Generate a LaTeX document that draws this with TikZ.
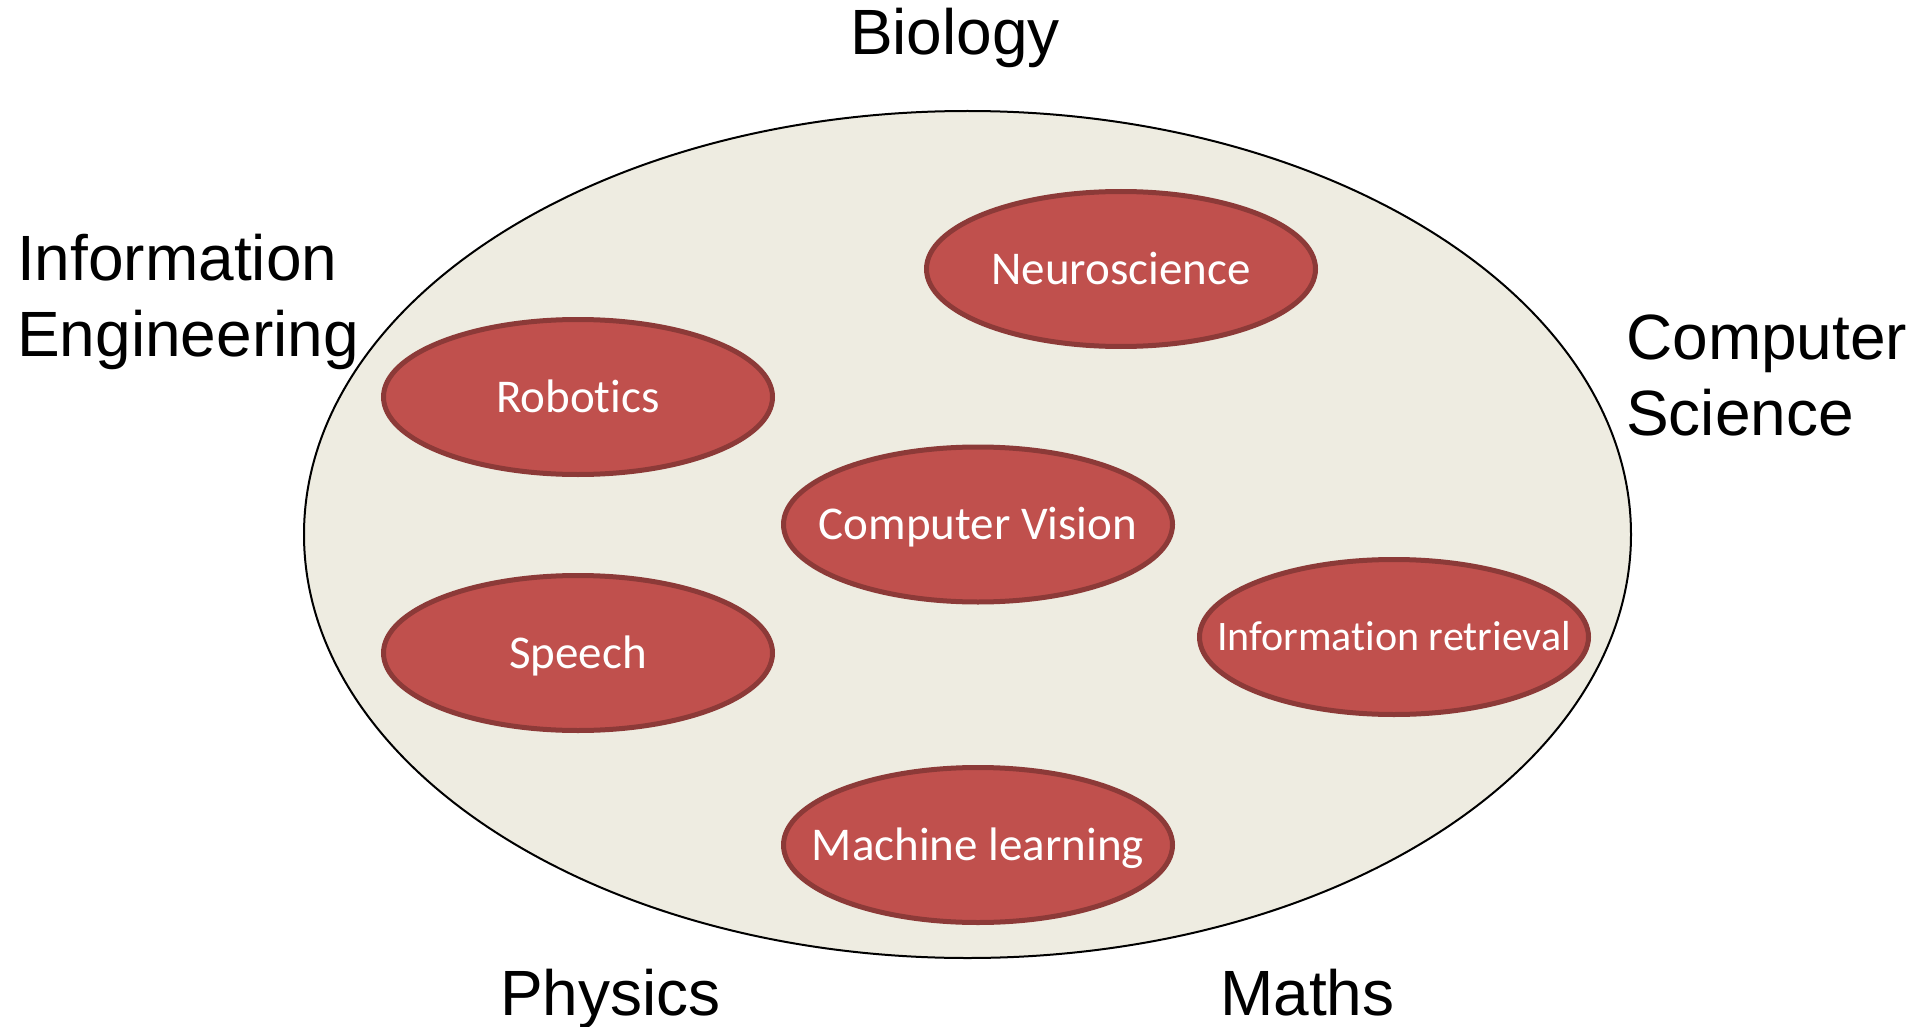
\documentclass[tikz,border=0pt]{standalone}
\usepackage{fontspec}
\setmainfont{Liberation Sans}
\newfontfamily\calfont[Ligatures=NoCommon]{Carlito}
\usetikzlibrary{shapes.geometric}
\definecolor{bgell}{HTML}{EEECE1}
\definecolor{redfill}{HTML}{C0504D}
\definecolor{redline}{HTML}{8C3A38}
\tikzset{
  bigell/.style={ellipse, draw=black, line width=2pt, fill=bgell, inner sep=0pt,
    minimum width=1327pt, minimum height=847pt},
  redell/.style={ellipse, draw=redline, line width=5pt, fill=redfill, inner sep=0pt,
    minimum width=389pt, minimum height=155pt},
  intext/.style={text=white, inner sep=0pt, font=\calfont\fontsize{47}{56}\selectfont,
    text height=30pt, text depth=0pt},
  smalltext/.style={intext, font=\calfont\fontsize{42}{50}\selectfont, text height=27pt},
  field/.style={inner sep=0pt, font=\fontsize{64}{76}\selectfont, text=black}
}
\begin{document}
\begin{tikzpicture}[x=1pt,y=-1pt]
\useasboundingbox (0,0) rectangle (1917,1027);
\node[bigell] (big) at (967.5,534.5) {};
\node[redell] (neu) at (1121,269) {};
\node[intext] (neuT) at (neu) {Neuroscience};
\node[redell] (rob) at (578,397) {};
\node[intext] (robT) at (rob) {Robotics};
\node[redell] (cv) at (978,524.5) {};
\node[intext] (cvT) at (cv) {Computer Vision};
\node[redell] (sp) at (578,653) {};
\node[intext] (spT) at (sp) {Speech};
\node[redell] (ir) at (1394,637) {};
\node[smalltext] (irT) at (ir) {Information retrieval};
\node[redell] (ml) at (978,845) {};
\node[intext] (mlT) at (ml) {Machine learning};
\node[field, anchor=base] (bio) at (955,55) {Biology};
\node[field, anchor=base west, align=left] (ie) at (17,356) {Information\\Engineering};
\node[field, anchor=base west, align=left] (cs) at (1626,435) {Computer\\Science};
\node[field, anchor=base west] (phy) at (500,1015) {Physics};
\node[field, anchor=base west] (math) at (1220,1015) {Maths};
\end{tikzpicture}
\end{document}
